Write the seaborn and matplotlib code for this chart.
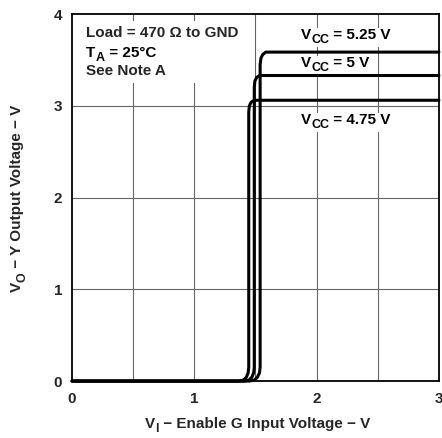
import matplotlib
matplotlib.use("Agg")
import matplotlib.pyplot as plt
from matplotlib.patches import Rectangle
from matplotlib.transforms import Bbox
import seaborn as sns
import pandas as pd

# ---- data ----
vi_475 = [0.0, 1.36, 1.40, 1.425, 1.44, 1.445, 1.445, 1.45, 1.465, 1.49, 1.53, 3.0]
vo_475 = [0.0, 0.0, 0.01, 0.04, 0.09, 0.15, 2.93, 3.00, 3.04, 3.06, 3.06, 3.06]

vi_500 = [0.0, 1.41, 1.445, 1.47, 1.485, 1.49, 1.49, 1.495, 1.51, 1.535, 1.575, 3.0]
vo_500 = [0.0, 0.0, 0.01, 0.04, 0.09, 0.15, 3.20, 3.27, 3.31, 3.33, 3.33, 3.33]

vi_525 = [0.0, 1.45, 1.49, 1.515, 1.533, 1.538, 1.538, 1.545, 1.56, 1.585, 1.625, 3.0]
vo_525 = [0.0, 0.0, 0.01, 0.04, 0.09, 0.15, 3.45, 3.52, 3.56, 3.585, 3.585, 3.585]

vcc_names = ["4.75", "5", "5.25"]
x_ticks = [0, 1, 2, 3]
y_ticks = [0, 1, 2, 3, 4]
x_grid = [0.5, 1.0, 1.5, 2.0, 2.5]
y_grid = [1, 2, 3]

FS = 11
SUB = 9
DROP = 3.0
TZ = 2.5  # text above grid, below curves

sns.set_theme(style="white")
plt.rcParams['font.family'] = ['Liberation Sans', 'DejaVu Sans']
plt.rcParams['font.weight'] = 'bold'

fig = plt.figure(figsize=(4.42, 4.38), dpi=100)
ax = fig.add_axes([0.163, 0.130, 0.830, 0.838])

for g in x_grid:
    ax.axvline(g, color="#666666", lw=0.8, zorder=1)
for g in y_grid:
    ax.axhline(g, color="#666666", lw=0.8, zorder=1)

frames = []
for name, xs, ys in zip(vcc_names, [vi_475, vi_500, vi_525], [vo_475, vo_500, vo_525]):
    frames.append(pd.DataFrame({"vi": xs, "vo": ys, "vcc": name}))
df = pd.concat(frames, ignore_index=True)

sns.lineplot(data=df, x="vi", y="vo", hue="vcc", units="vcc", estimator=None, sort=False,
             palette=["black", "black", "black"], lw=2.2, legend=False, ax=ax, zorder=3)
for ln in ax.lines[len(x_grid) + len(y_grid):]:
    ln.set_clip_on(False)
    ln.set_solid_joinstyle("round")

ax.set_xlim(0, 3)
ax.set_ylim(0, 4)
ax.set_xticks(x_ticks)
ax.set_yticks(y_ticks)
ax.set_xticklabels([str(t) for t in x_ticks], fontsize=FS, fontweight="bold")
ax.set_yticklabels([str(t) for t in y_ticks], fontsize=FS, fontweight="bold")
ax.tick_params(axis="x", length=0, pad=8)
ax.tick_params(axis="y", length=0, pad=7)
ax.set_xlabel("")
ax.set_ylabel("")
for s in ax.spines.values():
    s.set_color("black")
    s.set_linewidth(1.3)
    s.set_visible(True)
    s.set_zorder(4)


def sub_label(x, y, main, sub, rest):
    t1 = ax.text(x, y, main, ha="left", va="baseline", fontsize=FS,
                 fontweight="bold", color="black", zorder=TZ)
    t2 = ax.annotate(sub, xy=(1, 0), xycoords=t1, xytext=(0.2, -DROP), textcoords="offset points",
                     ha="left", va="bottom", fontsize=SUB, fontweight="bold", color="black",
                     zorder=TZ, annotation_clip=False)
    t3 = ax.annotate(rest, xy=(1, 0), xycoords=(t2, t1), xytext=(0, 0), textcoords="offset points",
                     ha="left", va="bottom", fontsize=FS, fontweight="bold", color="black",
                     zorder=TZ, annotation_clip=False)
    return [t1, t2, t3]


# condition text (top-left)
cond = []
cond.append(ax.text(0.115, 3.75, "Load = 470 Ω to GND", fontsize=FS, fontweight="bold",
                    ha="left", va="baseline", zorder=TZ))
cond += sub_label(0.115, 3.53, "T", "A", " = 25°C")
cond.append(ax.text(0.115, 3.335, "See Note A", fontsize=FS, fontweight="bold", ha="left",
                    va="baseline", zorder=TZ))

groups = [
    sub_label(1.872, 3.725, "V", "CC", " = 5.25 V"),
    sub_label(1.872, 3.42, "V", "CC", " = 5 V"),
    sub_label(1.872, 2.80, "V", "CC", " = 4.75 V"),
]

# x axis label
xl = fig.text(145 / 442, 1 - 428 / 438, "V", fontsize=FS, fontweight="bold", ha="left", va="baseline")
xa = ax.annotate("I", xy=(1, 0), xycoords=xl, xytext=(0.2, -DROP), textcoords="offset points",
                 ha="left", va="bottom", fontsize=SUB, fontweight="bold", annotation_clip=False)
ax.annotate(" − Enable G Input Voltage − V", xy=(1, 0), xycoords=(xa, xl), xytext=(0, 0),
            textcoords="offset points", ha="left", va="bottom", fontsize=FS, fontweight="bold",
            annotation_clip=False)

# y axis label (rotated)
yl = fig.text(24 / 442, 1 - 292 / 438, "V", fontsize=FS, fontweight="bold", rotation=90,
              ha="right", va="bottom")
ya = ax.annotate("O", xy=(1, 1), xycoords=yl, xytext=(DROP, 0.2), textcoords="offset points",
                 ha="right", va="bottom", fontsize=SUB, fontweight="bold", rotation=90,
                 annotation_clip=False)
ax.annotate(" − Y Output Voltage − V", xy=(1, 1), xycoords=(yl, ya), xytext=(0, 0),
            textcoords="offset points", ha="right", va="bottom", fontsize=FS, fontweight="bold",
            rotation=90, annotation_clip=False)

# white backgrounds behind text groups (hide the grid, sit under the curves)
fig.canvas.draw()
renderer = fig.canvas.get_renderer()
inv = ax.transData.inverted()


def add_bg(texts, padx, pady):
    bb = Bbox.union([t.get_window_extent(renderer) for t in texts])
    (x0, y0), (x1, y1) = inv.transform([(bb.x0 - padx, bb.y0 - pady), (bb.x1 + padx, bb.y1 + pady)])
    ax.add_patch(Rectangle((x0, y0), x1 - x0, y1 - y0, facecolor="white", edgecolor="none",
                           zorder=TZ - 0.1))


add_bg(cond, 10, 5)
for g in groups:
    add_bg(g, 1.5, 0.5)

fig.savefig("out.png", dpi=100)
